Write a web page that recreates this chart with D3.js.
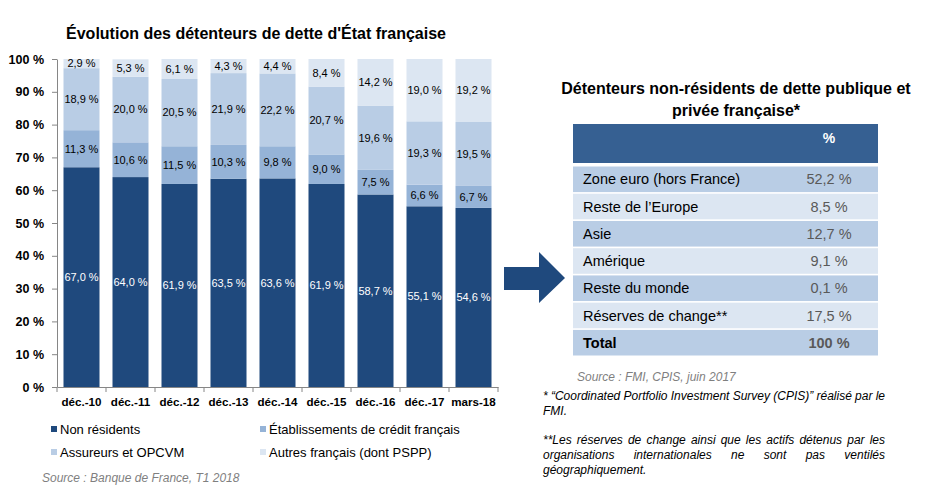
<!DOCTYPE html>
<html><head><meta charset="utf-8">
<script src="https://cdn.jsdelivr.net/npm/d3@7/dist/d3.min.js"></script>
<style>
html,body{margin:0;padding:0;background:#fff;}
svg{display:block;font-family:"Liberation Sans",Arial,sans-serif;}
</style></head>
<body><svg id="c" width="930" height="491"></svg>
<script>
const categories = ["déc.-10","déc.-11","déc.-12","déc.-13","déc.-14","déc.-15","déc.-16","déc.-17","mars-18"];
const seriesNames = ["Non résidents","Établissements de crédit français","Assureurs et OPCVM","Autres français (dont PSPP)"];
const nonResidents = [67.0,64.0,61.9,63.5,63.6,61.9,58.7,55.1,54.6];
const etablissements = [11.3,10.6,11.5,10.3,9.8,9.0,7.5,6.6,6.7];
const assureurs = [18.9,20.0,20.5,21.9,22.2,20.7,19.6,19.3,19.5];
const autres = [2.9,5.3,6.1,4.3,4.4,8.4,14.2,19.0,19.2];
const yTicks = [0,10,20,30,40,50,60,70,80,90,100];
const colors = ["#1F497D","#95B3D7","#B9CDE5","#DCE6F2"];
const labelColors = ["#ffffff","#000000","#000000","#000000"];

const tableLabels = ["Zone euro (hors France)","Reste de l’Europe","Asie","Amérique","Reste du monde","Réserves de change**","Total"];
const tableValues = ["52,2 %","8,5 %","12,7 %","9,1 %","0,1 %","17,5 %","100 %"];

const svg = d3.select("#c");
const fmt = v => v.toFixed(1).replace(".", ",") + " %";

// Left chart title
svg.append("text").attr("x",256).attr("y",39).attr("text-anchor","middle")
  .attr("font-weight","bold").attr("font-size",16).text("Évolution des détenteurs de dette d'État française");

const x = d3.scaleBand().domain(categories).range([57,498]).paddingInner(13/49).paddingOuter(6.5/49);
const y = d3.scaleLinear().domain([0,100]).range([387,59]);

const rows = categories.map((c,i)=>({cat:c, v:[nonResidents[i],etablissements[i],assureurs[i],autres[i]]}));
const stack = d3.stack().keys([0,1,2,3]).value((d,k)=>d.v[k]);
const stacked = stack(rows);

const g = svg.append("g");
stacked.forEach((layer,k)=>{
  const lg = g.append("g");
  lg.selectAll("rect").data(layer).join("rect")
    .attr("x",d=>x(d.data.cat)).attr("width",x.bandwidth())
    .attr("y",d=>y(Math.min(d[1],100))).attr("height",d=>y(d[0])-y(Math.min(d[1],100)))
    .attr("fill",colors[k]);
  lg.selectAll("text").data(layer).join("text")
    .attr("x",d=>x(d.data.cat)+x.bandwidth()/2)
    .attr("y",d=>y((d[0]+Math.min(d[1],100))/2))
    .attr("dy","0.35em").attr("text-anchor","middle")
    .attr("font-size",11).attr("fill",labelColors[k])
    .text(d=>fmt(d.data.v[k]));
});

// Y axis
const ya = svg.append("g").attr("transform","translate(57,0)")
  .call(d3.axisLeft(y).tickValues(yTicks).tickFormat(d=>d+" %").tickSize(5).tickSizeOuter(0).tickPadding(8));
ya.select(".domain").attr("stroke","#868686");
ya.selectAll(".tick line").attr("stroke","#868686");
ya.selectAll("text").attr("font-family","Liberation Sans, Arial, sans-serif").attr("font-size",12.5).attr("font-weight","bold").attr("fill","#000");

// X axis
const xa = svg.append("g").attr("transform","translate(0,387)")
  .call(d3.axisBottom(x).tickSize(0).tickSizeOuter(0).tickPadding(11));
xa.select(".domain").attr("stroke","#868686");
xa.selectAll("text").attr("font-family","Liberation Sans, Arial, sans-serif").attr("font-size",11.6).attr("font-weight","bold").attr("fill","#000");
const half = (x.step()-x.bandwidth())/2;
const bounds = categories.map(c=>x(c)-half).concat([x(categories[categories.length-1])+x.bandwidth()+half]);
svg.append("g").selectAll("line").data(bounds).join("line")
  .attr("x1",d=>d).attr("x2",d=>d).attr("y1",387).attr("y2",392).attr("stroke","#868686");

// Legend
const legPos = [[51,429],[260,429],[51,452],[260,452]];
const leg = svg.append("g");
seriesNames.forEach((n,i)=>{
  leg.append("rect").attr("x",legPos[i][0]).attr("y",legPos[i][1]-3).attr("width",6).attr("height",6).attr("fill",colors[i]);
  leg.append("text").attr("x",legPos[i][0]+9).attr("y",legPos[i][1]).attr("dy","0.35em")
    .attr("font-size",13).attr("fill","#000").text(n);
});
svg.append("text").attr("x",42).attr("y",478).attr("dy","0.35em").attr("font-size",12)
  .attr("font-style","italic").attr("fill","#7F7F7F").text("Source :  Banque de France, T1 2018");

// Arrow
svg.append("path").attr("d","M504,267 L539,267 L539,252 L565,278 L539,303 L539,290 L504,290 Z").attr("fill","#1F497D");

// Right title
const rt = svg.append("text").attr("text-anchor","middle").attr("font-weight","bold").attr("font-size",16);
rt.append("tspan").attr("x",736).attr("y",94).text("Détenteurs non-résidents de dette publique et");
rt.append("tspan").attr("x",736).attr("y",116).text("privée française*");

// Table
const tx0 = 573, tx1 = 878;
svg.append("rect").attr("x",tx0).attr("y",124).attr("width",tx1-tx0).attr("height",39).attr("fill","#366092");
svg.append("text").attr("x",829).attr("y",138).attr("dy","0.35em").attr("text-anchor","middle")
  .attr("font-weight","bold").attr("font-size",14).attr("fill","#fff").text("%");
const rowY = d3.scaleBand().domain(d3.range(tableLabels.length)).range([166.5,355.5]).paddingInner(0.06).paddingOuter(0);
const tr = svg.append("g").selectAll("g").data(tableLabels).join("g");
tr.append("rect").attr("x",tx0).attr("width",tx1-tx0)
  .attr("y",(d,i)=>rowY(i)).attr("height",rowY.bandwidth())
  .attr("fill",(d,i)=>i%2===0?"#B9CDE5":"#DCE6F2");
tr.append("text").attr("x",583).attr("y",(d,i)=>rowY(i)+rowY.bandwidth()/2).attr("dy","0.35em")
  .attr("font-size",14.5).attr("fill","#000").attr("font-weight",(d,i)=>i===tableLabels.length-1?"bold":"normal").text(d=>d);
tr.append("text").attr("x",829).attr("y",(d,i)=>rowY(i)+rowY.bandwidth()/2).attr("dy","0.35em")
  .attr("text-anchor","middle").attr("font-size",14.5).attr("fill","#595959")
  .attr("font-weight",(d,i)=>i===tableLabels.length-1?"bold":"normal").text((d,i)=>tableValues[i]);

// Source + footnotes
svg.append("text").attr("x",577).attr("y",377).attr("dy","0.35em").attr("font-size",12)
  .attr("font-style","italic").attr("fill","#7F7F7F").text("Source :  FMI, CPIS, juin 2017");

const fnLines = [
  {t:"* “Coordinated Portfolio Investment Survey (CPIS)” réalisé par le", y:396, j:true},
  {t:"FMI.", y:411, j:false},
  {t:"**Les réserves de change ainsi que les actifs détenus par les", y:440, j:true},
  {t:"organisations internationales ne sont pas ventilés", y:455, j:true},
  {t:"géographiquement.", y:470, j:false}
];
const fx0 = 543, fx1 = 885;
const fn = svg.append("g").attr("font-size",12).attr("font-style","italic").attr("fill","#000");
fnLines.forEach(L=>{
  if(!L.j){
    fn.append("text").attr("x",fx0).attr("y",L.y).attr("dy","0.35em").text(L.t);
    return;
  }
  const words = L.t.split(" ");
  const widths = words.map(w=>{
    const t = fn.append("text").text(w);
    const wd = t.node().getComputedTextLength(); t.remove(); return wd;
  });
  const gap = (fx1-fx0-d3.sum(widths))/(words.length-1);
  let cx = fx0;
  const t = fn.append("text").attr("y",L.y).attr("dy","0.35em");
  words.forEach((w,i)=>{
    t.append("tspan").attr("x",cx).text(w);
    cx += widths[i]+gap;
  });
});
</script></body></html>
